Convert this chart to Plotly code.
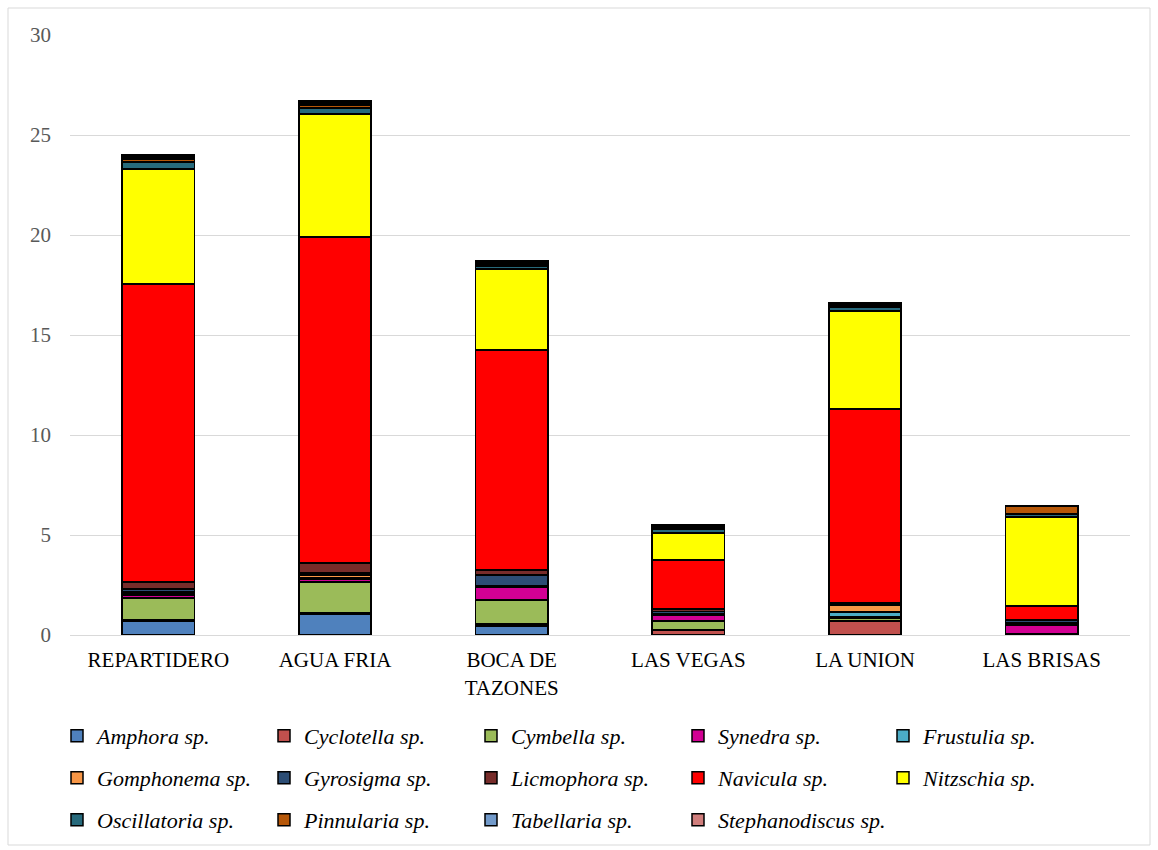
import plotly.graph_objects as go

sites = ["REPARTIDERO", "AGUA FRIA", "BOCA DE<br>TAZONES", "LAS VEGAS", "LA UNION", "LAS BRISAS"]

amphora        = [0.70, 1.05, 0.45, 0.00, 0.00, 0.00]
cyclotella     = [0.05, 0.05, 0.10, 0.25, 0.70, 0.05]
cymbella       = [1.10, 1.55, 1.20, 0.45, 0.15, 0.00]
synedra        = [0.15, 0.15, 0.65, 0.27, 0.05, 0.45]
frustulia      = [0.10, 0.05, 0.05, 0.05, 0.25, 0.05]
gomphonema     = [0.05, 0.15, 0.00, 0.05, 0.35, 0.05]
gyrosigma      = [0.15, 0.10, 0.55, 0.10, 0.05, 0.15]
licmophora     = [0.35, 0.50, 0.25, 0.13, 0.05, 0.00]
navicula       = [14.90, 16.30, 11.00, 2.45, 9.70, 0.70]
nitzschia      = [5.75, 6.15, 4.05, 1.35, 4.90, 4.45]
oscillatoria   = [0.35, 0.30, 0.15, 0.20, 0.20, 0.15]
pinnularia     = [0.15, 0.15, 0.10, 0.05, 0.10, 0.40]
tabellaria     = [0.10, 0.10, 0.05, 0.05, 0.00, 0.00]
stephanodiscus = [0.10, 0.10, 0.10, 0.10, 0.10, 0.00]

series = [
    ("Amphora sp.", amphora, "#4F81BD"),
    ("Cyclotella sp.", cyclotella, "#C0504D"),
    ("Cymbella sp.", cymbella, "#9BBB59"),
    ("Synedra sp.", synedra, "#D20093"),
    ("Frustulia sp.", frustulia, "#4BACC6"),
    ("Gomphonema sp.", gomphonema, "#F79646"),
    ("Gyrosigma sp.", gyrosigma, "#2C4D75"),
    ("Licmophora sp.", licmophora, "#772C2A"),
    ("Navicula sp.", navicula, "#FF0000"),
    ("Nitzschia sp.", nitzschia, "#FFFF00"),
    ("Oscillatoria sp.", oscillatoria, "#276A7C"),
    ("Pinnularia sp.", pinnularia, "#B65708"),
    ("Tabellaria sp.", tabellaria, "#729ACA"),
    ("Stephanodiscus sp.", stephanodiscus, "#D07E7C"),
]

font_family = "Liberation Serif"

# page geometry (pixels) used to place each legend entry in a 5-column grid
W, H = 1158, 850
ML, MR, MT, MB = 70, 28, 35, 215
PW, PH = W - ML - MR, H - MT - MB
col_left_px = [57, 264, 471, 678, 883]
row_mid_px = [736, 778, 820]

fig = go.Figure()
legends = {}
for i, (name, vals, color) in enumerate(series):
    key = "legend" if i == 0 else f"legend{i + 1}"
    fig.add_trace(go.Bar(
        x=sites, y=vals, name="<i>" + name + "</i>",
        marker=dict(color=color, line=dict(color="#000000", width=1.5)),
        width=0.41,
        legend=key,
    ))
    col, row = i % 5, i // 5
    legends[key] = dict(
        x=(col_left_px[col] - ML) / PW, xanchor="left",
        y=-(row_mid_px[row] - (MT + PH)) / PH, yanchor="middle",
        font=dict(family=font_family, size=22, color="#000000"),
        itemwidth=30, bgcolor="rgba(0,0,0,0)",
    )

fig.update_layout(
    barmode="stack",
    width=W, height=H,
    margin=dict(l=ML, r=MR, t=MT, b=MB, autoexpand=False),
    paper_bgcolor="white", plot_bgcolor="white",
    font=dict(family=font_family, size=22, color="#000000"),
    showlegend=True,
    xaxis=dict(
        showgrid=False, ticks="", showline=True, linecolor="#D9D9D9", linewidth=1,
        tickfont=dict(family=font_family, size=21, color="#000000"),
        ticklabelstandoff=6, automargin=False,
    ),
    yaxis=dict(
        range=[0, 30], dtick=5, showgrid=True, gridcolor="#D9D9D9", gridwidth=1,
        zeroline=False, showline=False, ticks="",
        tickfont=dict(family=font_family, size=21, color="#595959"),
        ticklabelstandoff=18, automargin=False,
    ),
    shapes=[dict(
        type="rect", xref="paper", yref="paper",
        x0=(8 - ML) / PW, x1=(1150 - ML) / PW,
        y0=-(845 - (MT + PH)) / PH, y1=1 + 27 / PH,
        line=dict(color="#D9D9D9", width=1), layer="below",
    )],
    **legends,
)

fig.write_html("out.html")
